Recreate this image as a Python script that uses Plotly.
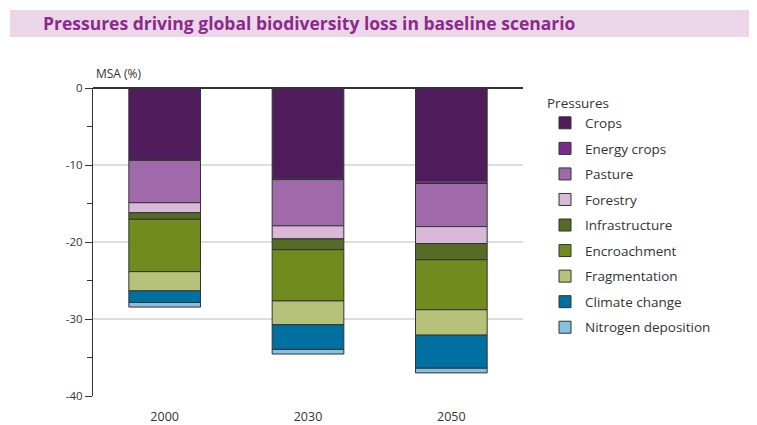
import plotly.graph_objects as go

years = ["2000", "2030", "2050"]
pressures = ["Crops", "Energy crops", "Pasture", "Forestry", "Infrastructure",
             "Encroachment", "Fragmentation", "Climate change", "Nitrogen deposition"]
crops = [-9.3, -11.8, -12.0]
energy_crops = [-0.1, -0.1, -0.4]
pasture = [-5.5, -6.0, -5.6]
forestry = [-1.3, -1.7, -2.2]
infrastructure = [-0.85, -1.4, -2.1]
encroachment = [-6.8, -6.65, -6.5]
fragmentation = [-2.5, -3.1, -3.3]
climate_change = [-1.5, -3.2, -4.3]
nitrogen_deposition = [-0.6, -0.6, -0.6]
y_ticks = [0, -10, -20, -30, -40]
y_tick_labels = ["0", "-10", "-20", "-30", "-40"]
series = [crops, energy_crops, pasture, forestry, infrastructure,
          encroachment, fragmentation, climate_change, nitrogen_deposition]
colors = ["#4F1D5C", "#7B2A8E", "#A06AAA", "#DAB8D8", "#566B24",
          "#728B1F", "#B6C27A", "#0070A0", "#86C0E0"]

FONT = "Open Sans"
OFF = 8  # page body margin
W, H = 757 - OFF, 425 - OFF
L, R, T, B = 93 - OFF, 523 - OFF, 88 - OFF, 396 - OFF

def px(x):
    return (x - OFF - L) / (R - L)

def py(y):
    return (B - (y - OFF)) / (B - T)

fig = go.Figure()
for name, vals, col in zip(pressures, series, colors):
    fig.add_trace(go.Bar(x=years, y=vals, name=name, legendgroup=name,
                         marker=dict(color=col, line=dict(color="#333333", width=1))))

fig.update_layout(
    width=W, height=H,
    barmode="relative", bargap=0.5,
    plot_bgcolor="white", paper_bgcolor="white",
    margin=dict(l=L, r=W - R, t=T, b=H - B, pad=0, autoexpand=False),
    font=dict(family=FONT, color="#333333", size=11),
    showlegend=True,
    legend=dict(x=px(545), y=py(90), xanchor="left", yanchor="top",
                maxheight=380,
                title=dict(text="Pressures", font=dict(size=13.5, color="#333333")),
                font=dict(size=13.5, color="#333333"), traceorder="grouped",
                tracegroupgap=5, itemwidth=30, bgcolor="rgba(0,0,0,0)"),
    shapes=[dict(type="rect", xref="paper", yref="paper",
                 x0=px(10), x1=px(757), y0=py(37), y1=py(10),
                 fillcolor="#ECD6E9", line=dict(width=0), layer="below")],
    annotations=[
        dict(text="<b>Pressures driving global biodiversity loss in baseline scenario</b>",
             xref="paper", yref="paper", x=px(41), y=py(23), xanchor="left", yanchor="middle",
             showarrow=False, font=dict(size=17.5, color="#8B2A8B", family=FONT)),
        dict(text="MSA (%)", xref="paper", yref="paper", x=px(94), y=py(73),
             xanchor="left", yanchor="middle", showarrow=False,
             font=dict(size=12, color="#333333")),
    ],
)
fig.update_yaxes(range=[-40, 0], tickvals=y_ticks, ticktext=y_tick_labels,
                 showline=True, linecolor="#333333", linewidth=1,
                 ticks="outside", ticklen=7, tickcolor="#333333",
                 showgrid=True, gridcolor="#DDDDDD", gridwidth=1.5,
                 zeroline=True, zerolinecolor="#333333", zerolinewidth=1.5,
                 minor=dict(dtick=5, ticks="outside", ticklen=5, tickcolor="#333333", showgrid=False),
                 tickfont=dict(size=11.5, color="#333333"), automargin=False)
fig.update_xaxes(showline=False, ticks="", ticklabelstandoff=11, automargin=False,
                 tickfont=dict(size=12.5, color="#333333"),
                 range=[-0.5, 2.5])

fig.write_html("out.html")
